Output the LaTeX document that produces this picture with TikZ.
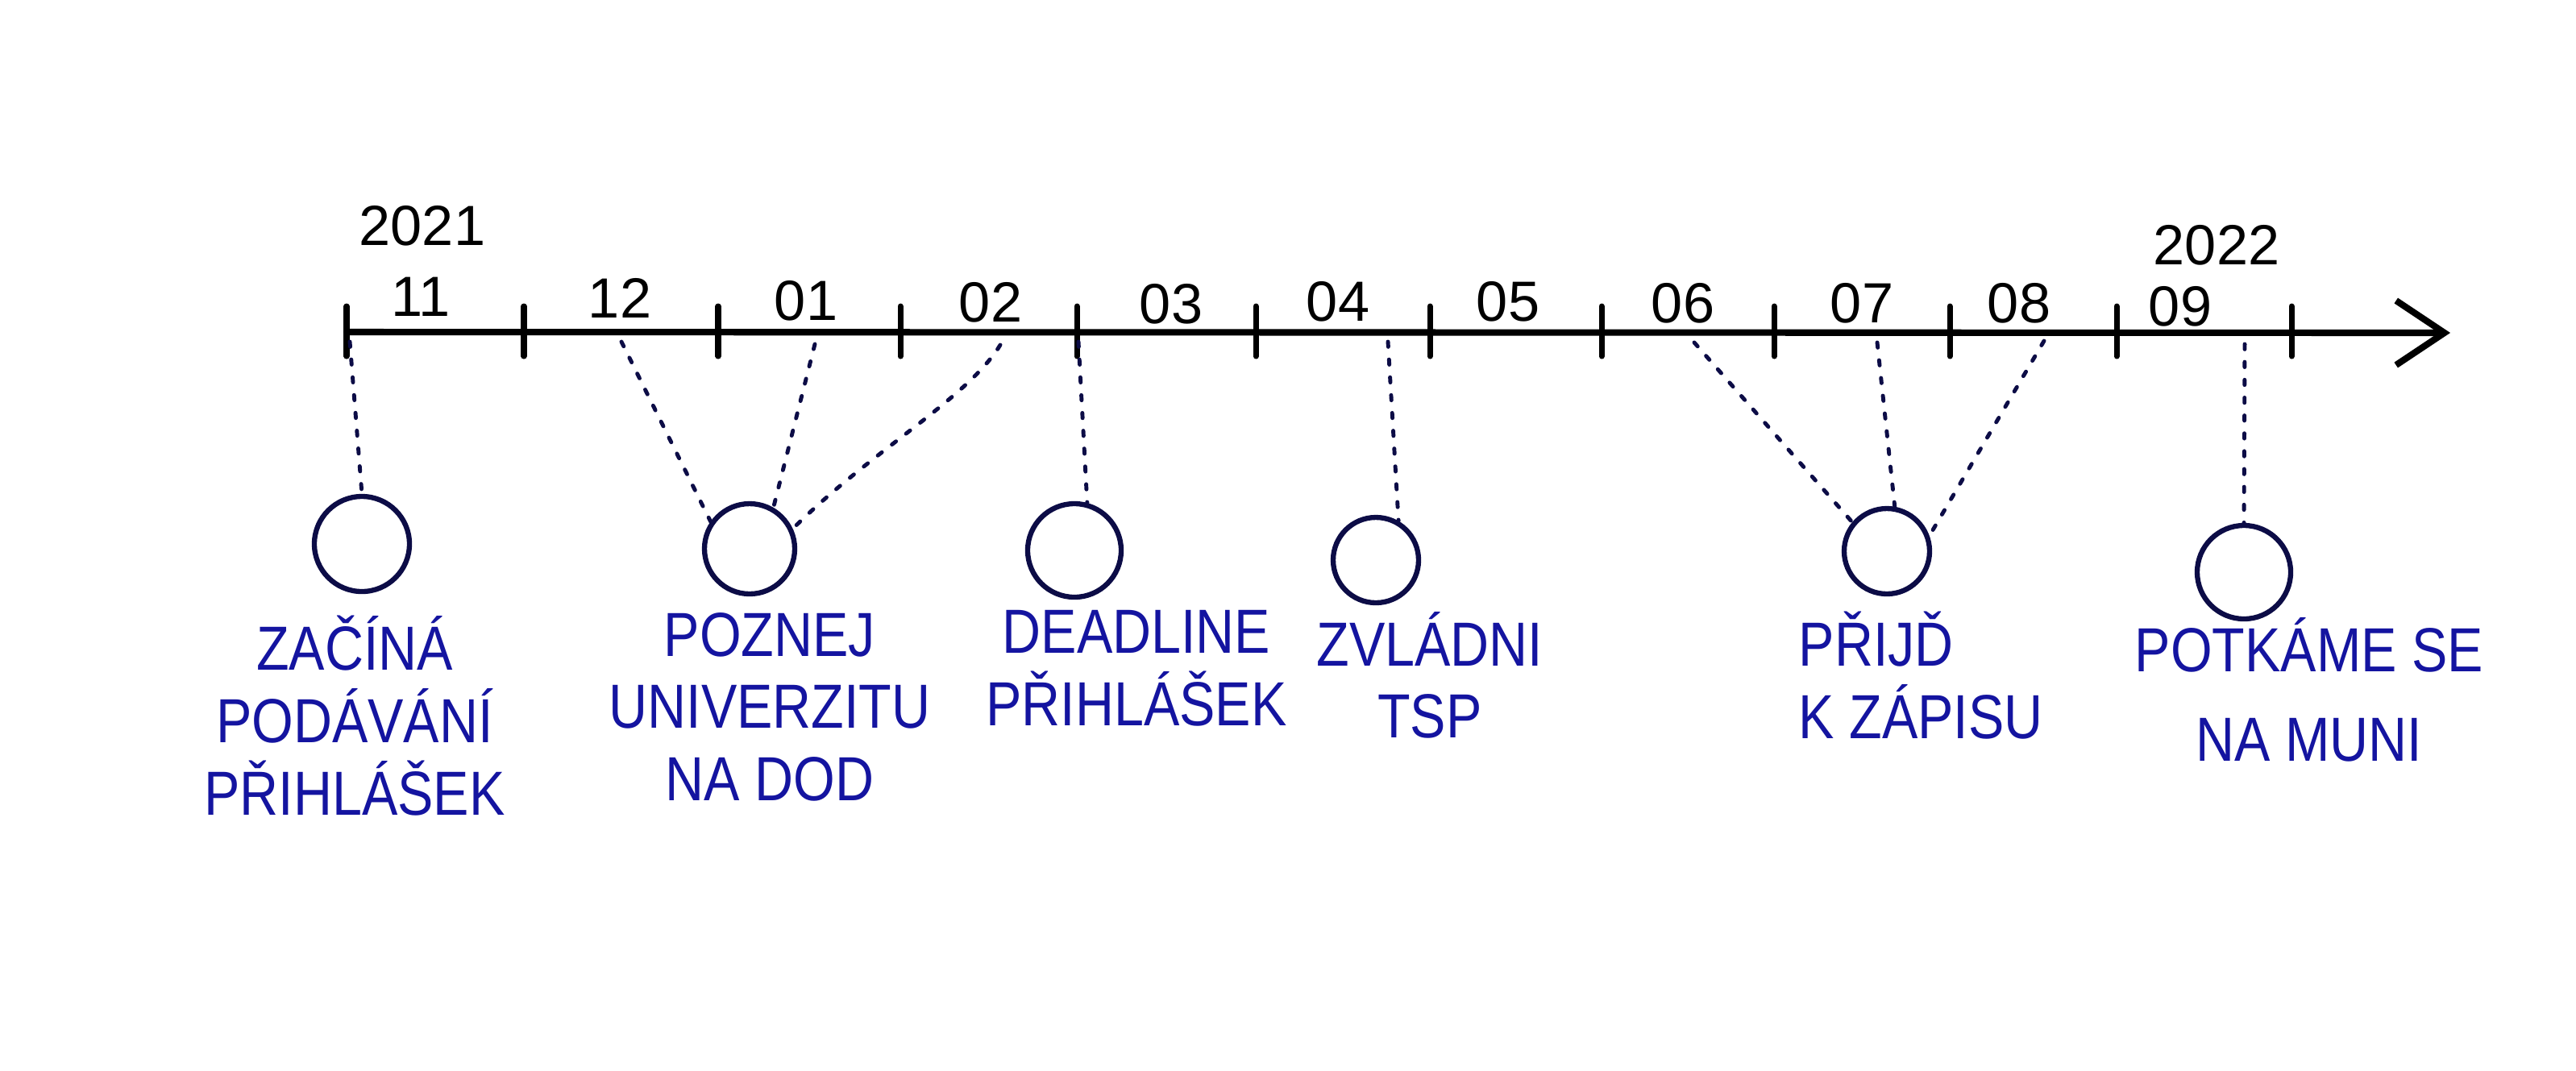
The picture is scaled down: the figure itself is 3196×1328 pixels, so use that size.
\documentclass[tikz,border=0pt]{standalone}
\usepackage{fontspec}
\setmainfont{Liberation Sans}
\newfontfamily\handfont[FakeStretch=0.86]{Liberation Sans}
\usetikzlibrary{arrows.meta,calc}
\definecolor{pen}{RGB}{20,20,160}
\definecolor{ink}{RGB}{12,12,70}
\begin{document}
\begin{tikzpicture}[x=0.1mm,y=-0.1mm,
  axisline/.style={line width=2.3pt, black, line cap=round},
  tickmark/.style={line width=2pt, black, line cap=round},
  dotline/.style={ink, line width=1.4pt, dash pattern=on 1.8pt off 4.5pt, line cap=round},
  evt/.style={circle, draw=ink, line width=1.8pt, inner sep=0pt},
  lab/.style={text=pen, font=\handfont\fontsize{22}{25.5}\selectfont, align=center, inner sep=0pt},
  month/.style={font=\fontsize{20}{22}\selectfont, text=black, inner sep=0pt}]
\useasboundingbox (0,0) rectangle (3196,1328);
\fill[white] (0,0) rectangle (3196,1328);

% axis
\coordinate (axstart) at (430,412);
\coordinate (axend) at (3040,413);
\draw[axisline, -{Straight Barb[length=6mm, width=8mm, line width=2.3pt]}] (axstart) -- (axend);
\foreach \x in {430,650,891,1117,1336,1558,1774,1987,2201,2419,2626,2843}
  \draw[tickmark] (\x,380) -- (\x,442);

% years and months
\node[month] (y2021) at (524,280) {2021};
\node[month] (y2022) at (2750,304) {2022};
\node[month] (m11) at (522,368) {11};
\node[month] (m12) at (769,370) {12};
\node[month] (m01) at (1000,373) {01};
\node[month] (m02) at (1229,375) {02};
\node[month] (m03) at (1453,377) {03};
\node[month] (m04) at (1660,374) {04};
\node[month] (m05) at (1871,374) {05};
\node[month] (m06) at (2088,376) {06};
\node[month] (m07) at (2310,376) {07};
\node[month] (m08) at (2505,376) {08};
\node[month] (m09) at (2705,380) {09};

% event circles
\node[evt, minimum size=11.8mm] (c1) at (449,675) {};
\node[evt, minimum size=11.2mm] (c2) at (930,681) {};
\node[evt, minimum size=11.6mm] (c3) at (1333,683) {};
\node[evt, minimum size=10.6mm] (c4) at (1707,695) {};
\node[evt, minimum size=10.6mm] (c5) at (2341,684) {};
\node[evt, minimum size=11.6mm] (c6) at (2784,710) {};

% connector start points on the axis
\coordinate (s1) at (434,424);
\coordinate (s2a) at (771,424);
\coordinate (s2b) at (1011,427);
\coordinate (s2c) at (1241,428);
\coordinate (s3) at (1338,424);
\coordinate (s4) at (1722,424);
\coordinate (s5a) at (2102,425);
\coordinate (s5b) at (2329,425);
\coordinate (s5c) at (2536,423);
\coordinate (s6) at (2785,427);

\draw[dotline] (s1) -- (c1.north);
\draw[dotline] (s2a) -- (c2.145);
\draw[dotline] (s2b) -- (c2.60);
\draw[dotline] (s2c) .. controls (1200,495) and (1080,560) .. (c2.25);
\draw[dotline] (s3) -- (c3.75);
\draw[dotline] (s4) -- (c4.60);
\draw[dotline] (s5a) -- (c5.140);
\draw[dotline] (s5b) -- (c5.80);
\draw[dotline] (s5c) -- (c5.20);
\draw[dotline] (s6) -- (c6.north);

% labels
\node[lab] (l1) at (440,888) {ZAČÍNÁ\\PODÁVÁNÍ\\PŘIHLÁŠEK};
\node[lab] (l2) at (955,877) {POZNEJ\\UNIVERZITU\\NA DOD};
\node[lab] (l3) at (1410,829) {DEADLINE\\PŘIHLÁŠEK};
\node[lab] (l4) at (1774,838) {ZVLÁDNI\\TSP};
\node[lab, align=left, anchor=west] (l5) at (2231,838) {PŘIJĎ\\K ZÁPISU};
\node[lab] (l6) at (2865,856) {POTKÁME SE\\[6pt]NA MUNI};
\end{tikzpicture}
\end{document}
